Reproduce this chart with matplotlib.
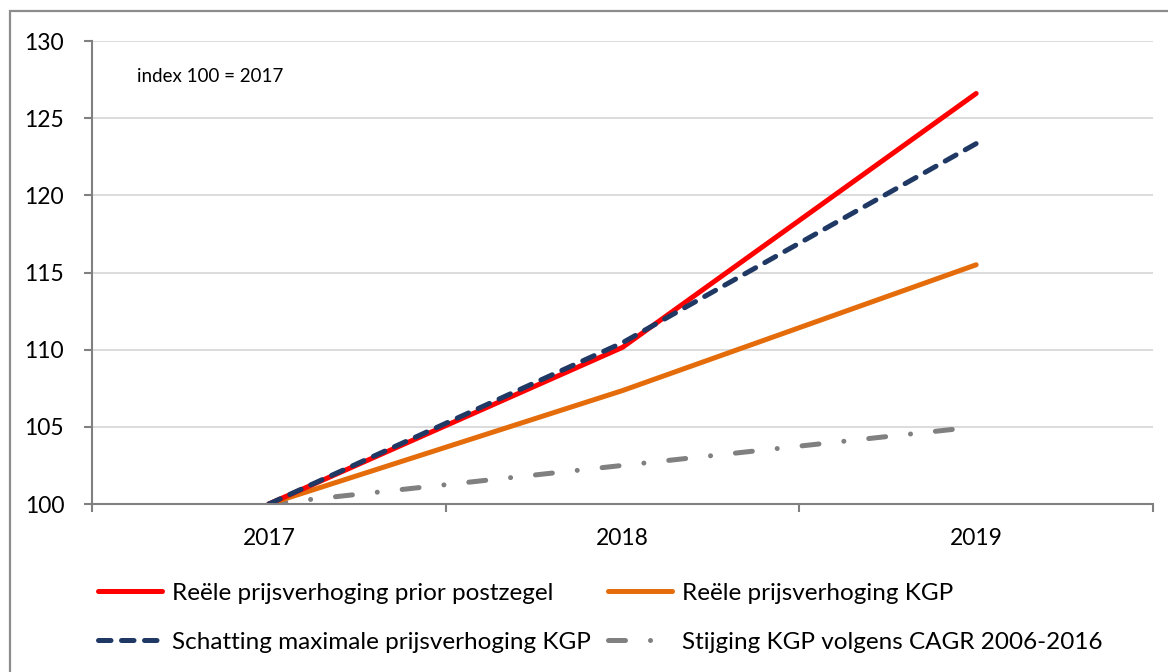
import matplotlib
matplotlib.use("Agg")
import matplotlib.pyplot as plt
from matplotlib.patches import Rectangle

plt.rcParams['font.family'] = ['Lato', 'DejaVu Sans']

years = ['2017', '2018', '2019']
reele_prior = [100.0, 110.15, 126.6]
reele_kgp = [100.0, 107.35, 115.5]
schatting_max = [100.0, 110.45, 123.35]
cagr = [100.0, 102.5, 105.0]
y_ticks = [100, 105, 110, 115, 120, 125, 130]

labels = ['Reële prijsverhoging prior postzegel',
          'Reële prijsverhoging KGP',
          'Schatting maximale prijsverhoging KGP',
          'Stijging KGP volgens CAGR 2006-2016']

fig = plt.figure(figsize=(11.68, 6.72), dpi=100)
ax = fig.add_axes([92/1168, 1 - 504/672, (1153 - 92)/1168, (504 - 41)/672])

x = list(range(len(years)))
lw = 3.6
l_red, = ax.plot(x, reele_prior, color='#FF0000', lw=lw, solid_capstyle='round', zorder=4)
l_orange, = ax.plot(x, reele_kgp, color='#E46C0A', lw=lw, solid_capstyle='round', zorder=3)
l_navy, = ax.plot(x, schatting_max, color='#1F3864', lw=lw, linestyle=(0, (2.5, 2.1)),
                  dash_capstyle='round', zorder=5)
l_gray, = ax.plot(x, cagr, color='#808080', lw=lw, linestyle=(0, (3.4, 5.0, 0.01, 5.0)),
                  dash_capstyle='round', zorder=2)

ax.set_xlim(-0.5, 2.5)
ax.set_ylim(100, 130)
ax.set_yticks(y_ticks)
ax.set_yticklabels([str(v) for v in y_ticks])
ax.set_xticks(x)
ax.set_xticklabels(years)
ax.set_xticks([-0.5, 0.5, 1.5, 2.5], minor=True)
ax.tick_params(axis='x', which='major', length=0, pad=17, labelsize=16.5)
ax.tick_params(axis='x', which='minor', length=6, width=1.5, color='#808080', direction='out')
ax.tick_params(axis='y', length=6, width=1.5, color='#808080', labelsize=16.5, pad=14)

ax.grid(axis='y', color='#D9D9D9', lw=1.3)
ax.set_axisbelow(True)
for s in ['top', 'right']:
    ax.spines[s].set_visible(False)
for s in ['left', 'bottom']:
    ax.spines[s].set_color('#808080')
    ax.spines[s].set_linewidth(1.5)
ax.spines['bottom'].set_zorder(6)

ax.text(137/1168, 1 - 76/672, 'index 100 = 2017', transform=fig.transFigure,
        fontsize=13.5, va='center', ha='left')

handles = [l_red, l_navy, l_orange, l_gray]
hl = [labels[0], labels[2], labels[1], labels[3]]
leg = fig.legend(handles, hl, ncol=2, loc='upper left',
                 bbox_to_anchor=(88/1168, 1 - 573/672), frameon=False,
                 fontsize=17.5, handlelength=2.65, handletextpad=0.4,
                 columnspacing=0.7, labelspacing=1.15, borderaxespad=0)

fig.patches.append(Rectangle((10/1168, -0.1), 1.2, 1 - 11/672 + 0.1,
                             transform=fig.transFigure, fill=False,
                             edgecolor='#8C8C8C', lw=1.6))

fig.savefig('out.png', dpi=100)
